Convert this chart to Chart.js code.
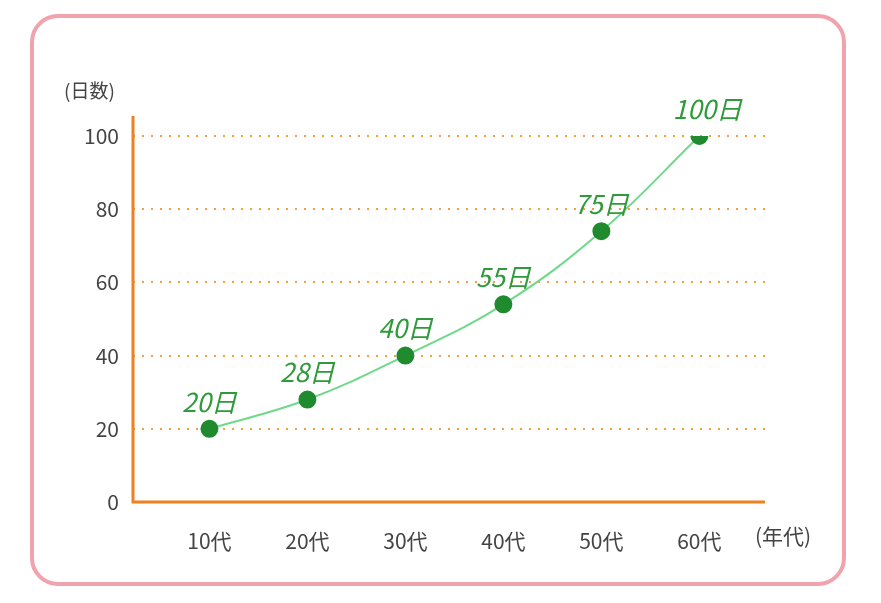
<!DOCTYPE html>
<html><head><meta charset="utf-8">
<script src="https://cdn.jsdelivr.net/npm/chart.js"></script>
<style>
body{margin:0;background:#fff;width:881px;height:603px;position:relative;font-family:"Noto Sans CJK JP",sans-serif;}
#frame{position:absolute;left:30px;top:14px;width:816px;height:572px;border:4px solid #f0a3ad;border-radius:28px;box-sizing:border-box;}
#wrap{position:absolute;left:0;top:0;width:881px;height:603px;}
.t{position:absolute;font-size:19px;color:#444;}
</style></head><body>
<div id="frame"></div>
<div id="wrap"><canvas id="c" width="881" height="603"></canvas></div>
<div class="t" style="left:64px;top:76px;">(日数)</div>
<div class="t" style="left:755px;top:520px;font-size:21px;">(年代)</div>
<script>
const categories=["10代","20代","30代","40代","50代","60代"];
const values=[20,28,40,54,74,100];
const pointLabels=["20日","28日","40日","55日","75日","100日"];
const yTicks=[0,20,40,60,80,100];
const pts=values.map((v,i)=>({x:i+1,y:v}));
const labelPlugin={id:'lbl',afterDatasetsDraw(ch){
 const ctx=ch.ctx,m=ch.getDatasetMeta(0);
 ctx.save();ctx.fillStyle='#2e9a3a';ctx.font='italic 26px "Noto Sans CJK JP"';ctx.textAlign='center';ctx.textBaseline='bottom';
 m.data.forEach((p,i)=>ctx.fillText(pointLabels[i],p.x+(i==5?8:0),p.y-14));
 ctx.restore();}};
const axisPlugin={id:'ax',afterDraw(ch){
 const ctx=ch.ctx,a=ch.chartArea;ctx.save();ctx.strokeStyle='#f08020';ctx.lineWidth=3;
 ctx.beginPath();ctx.moveTo(a.left,a.top-20);ctx.lineTo(a.left,a.bottom);ctx.lineTo(a.right,a.bottom);ctx.stroke();ctx.restore();}};
new Chart(document.getElementById('c'),{
 type:'scatter',
 data:{datasets:[{data:pts,showLine:true,borderColor:'#6fd98a',borderWidth:2,tension:0.4,
  pointBackgroundColor:'#1f8a2e',pointBorderColor:'#1f8a2e',pointRadius:8}]},
 options:{responsive:false,animation:false,
  layout:{padding:{left:0,right:116,top:136,bottom:0}},
  plugins:{legend:{display:false},tooltip:{enabled:false}},
  scales:{
   x:{type:'linear',min:0.22,max:6.67,afterBuildTicks:s=>{s.ticks=categories.map((c,i)=>({value:i+1}));},
    afterFit:s=>{s.height=101;},
    grid:{display:false},border:{display:false},
    ticks:{callback:v=>categories[v-1],color:'#444',font:{size:21,family:'"Noto Sans CJK JP"'},padding:18}},
   y:{min:0,max:100,afterBuildTicks:s=>{s.ticks=yTicks.map(v=>({value:v}));},
    afterFit:s=>{s.width=133;},
    grid:{color:'#f5a040',lineWidth:2,drawTicks:false},border:{display:false,dash:[2,7]},
    ticks:{color:'#444',font:{size:21,family:'"Noto Sans CJK JP"'},padding:14}}}},
 plugins:[labelPlugin,axisPlugin]
});
</script></body></html>
